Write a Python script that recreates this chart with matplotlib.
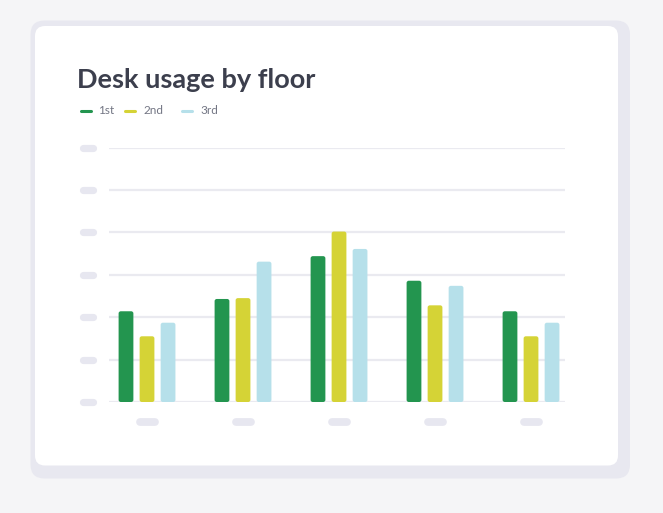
import numpy as np
import matplotlib
matplotlib.use('Agg')
import matplotlib.pyplot as plt
from matplotlib.patches import FancyBboxPatch
from matplotlib.lines import Line2D

# data
groups = ['A', 'B', 'C', 'D', 'E']
series_names = ['1st', '2nd', '3rd']
floor_1st = [21.4, 24.3, 34.4, 28.6, 21.4]
floor_2nd = [15.5, 24.5, 40.2, 22.8, 15.5]
floor_3rd = [18.7, 33.1, 36.1, 27.4, 18.7]
y_ticks = [0, 10, 20, 30, 40, 50, 60]

colors = ['#23954f', '#d5d336', '#b6e0ea']
title_color = '#3c3f4d'
legend_text = '#737684'
placeholder = '#e7e7f0'
grid_color = '#eaeaf0'

W, H = 663, 513
fig = plt.figure(figsize=(W / 100, H / 100), dpi=100)
fig.patch.set_facecolor('#f5f5f7')
plt.rcParams['font.family'] = ['Lato', 'DejaVu Sans']

# background axes in pixel coordinates (origin top-left)
bg = fig.add_axes([0, 0, 1, 1], zorder=0)
bg.set_xlim(0, W)
bg.set_ylim(H, 0)
bg.axis('off')
bg.add_patch(FancyBboxPatch((30.5, 20.5), 599.5, 458, boxstyle='round,pad=0,rounding_size=14',
                            facecolor='#e8e8f0', edgecolor='none'))
bg.add_patch(FancyBboxPatch((35, 26), 583, 439.5, boxstyle='round,pad=0,rounding_size=10',
                            facecolor='white', edgecolor='none'))

title = bg.text(77, 87.5, 'Desk usage by floor', fontsize=19.5, fontweight='bold',
                color=title_color, va='baseline', ha='left')

# legend
leg_x = [(79, 92, 98), (123, 136, 143), (180, 193, 200)]
for (x0, x1, tx), name, c in zip(leg_x, series_names, colors):
    bg.add_line(Line2D([x0 + 1.5, x1 - 1.5], [110.5, 110.5], color=c, linewidth=2.2,
                       solid_capstyle='round'))
    bg.text(tx, 114.5, name, fontsize=8.5, color=legend_text, va='baseline', ha='left')

# main chart axes
left, right, top, bottom = 109, 565, 147.6, 402
ax = fig.add_axes([left / W, (H - bottom) / H, (right - left) / W, (bottom - top) / H], zorder=1)
ax.patch.set_alpha(0)

x = np.arange(len(groups))
bar_w = 0.154
step = 0.219
all_series = [floor_1st, floor_2nd, floor_3rd]
ax.set_xlim(-0.396, 4.354)
ax.set_ylim(0, 60)

px_x = (right - left) / (4.354 + 0.396)
px_y = (bottom - top) / 60.0
for i, (vals, c) in enumerate(zip(all_series, colors)):
    bars = ax.bar(x + (i - 1) * step, vals, width=bar_w, color=c, zorder=3)
    for b in bars:
        rb = FancyBboxPatch((b.get_x(), b.get_y()), b.get_width(), b.get_height(),
                            boxstyle='round,pad=0,rounding_size=%f' % (2.2 / px_x),
                            mutation_aspect=px_x / px_y,
                            facecolor=c, edgecolor='none', zorder=3)
        b.remove()
        ax.add_patch(rb)

ax.set_yticks(y_ticks)
ax.set_xticks(x)
ax.grid(axis='y', color=grid_color, linewidth=1.6, zorder=0)
ax.grid(axis='x', visible=False)
ax.tick_params(left=False, bottom=False, labelleft=False, labelbottom=False)
for s in ax.spines.values():
    s.set_visible(False)

# placeholder tick labels (pills)
ytr = ax.get_yaxis_transform()
for v in y_ticks:
    ax.plot([(82.5 - left) / (right - left), (92.5 - left) / (right - left)], [v, v],
            color=placeholder, linewidth=5.2, solid_capstyle='round',
            transform=ytr, clip_on=False)
xtr = ax.get_xaxis_transform()
y_lab = (bottom - 421.7) / (bottom - top)
half = 7.5 / px_x
for xi in x:
    ax.plot([xi - half, xi + half], [y_lab, y_lab], color=placeholder, linewidth=5.6,
            solid_capstyle='round', transform=xtr, clip_on=False)

plt.savefig('out.png', dpi=100)
plt.close()
